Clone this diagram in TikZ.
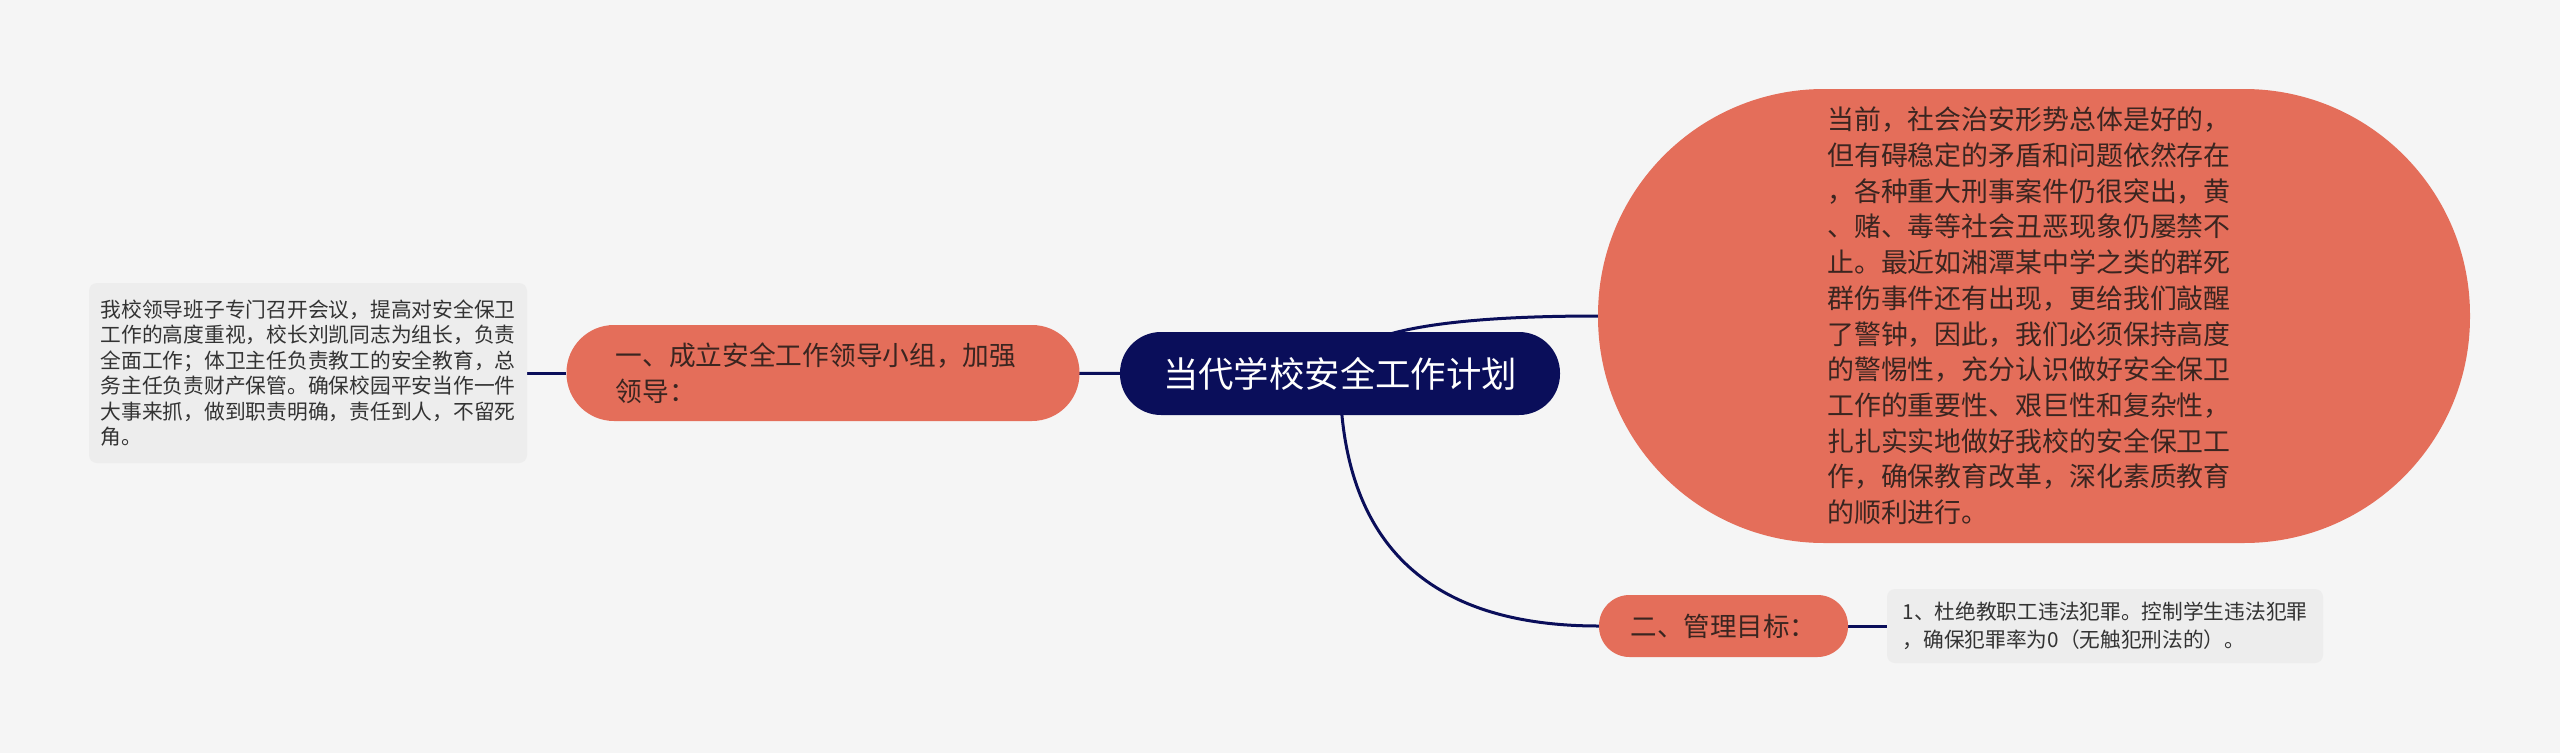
\documentclass[tikz,border=0pt]{standalone}
\usepackage{fontspec}
\setmainfont{Noto Sans CJK SC}
\usetikzlibrary{calc}
\definecolor{bgc}{HTML}{F5F5F5}
\definecolor{navy}{HTML}{0A0E5A}
\definecolor{coral}{HTML}{E46E5A}
\definecolor{coraltext}{HTML}{3A2520}
\definecolor{leaffill}{HTML}{EDEDED}
\definecolor{leaftext}{HTML}{333333}
\pgfdeclarelayer{edgelayer}
\pgfsetlayers{edgelayer,main}
\tikzset{
  rootbox/.style={draw=none, fill=navy, text=white, rounded corners=41pt, inner sep=0pt,
    minimum width=440pt, minimum height=83pt, font=\fontsize{35.4pt}{42pt}\selectfont},
  branchbox/.style={draw=none, fill=coral, text=coraltext, inner sep=0pt, align=left},
  leafbox/.style={draw=none, fill=leaffill, text=leaftext, rounded corners=8pt, inner sep=0pt, align=left,
    font=\fontsize{20.75pt}{25.5pt}\selectfont},
  conn/.style={draw=navy, line width=3pt}
}
\begin{document}
\begin{tikzpicture}[x=1pt, y=-1pt]
\useasboundingbox (0,0) rectangle (2560,753);

\node[rootbox] (root) at (1340,373.5) {当代学校安全工作计划};

\node[branchbox, rounded corners=47.5pt, minimum width=513pt, minimum height=96pt,
  font=\fontsize{26.7pt}{36pt}\selectfont] (bL) at (823,373)
  {\hspace*{-14pt}一、成立安全工作领导小组，加强\\\hspace*{-14pt}领导：};

\node[leafbox, minimum width=438pt, minimum height=180pt] (leafL) at (308,373)
  {我校领导班子专门召开会议，提高对安全保卫\\
   工作的高度重视，校长刘凯同志为组长，负责\\
   全面工作；体卫主任负责教工的安全教育，总\\
   务主任负责财产保管。确保校园平安当作一件\\
   大事来抓，做到职责明确，责任到人，不留死\\
   角。};

\node[branchbox, rounded corners=226pt, minimum width=872pt, minimum height=454pt,
  font=\fontsize{26.9pt}{35.7pt}\selectfont] (big) at (2034,316)
  {\hspace*{-10pt}当前，社会治安形势总体是好的，\\
   \hspace*{-10pt}但有碍稳定的矛盾和问题依然存在\\
   \hspace*{-10pt}，各种重大刑事案件仍很突出，黄\\
   \hspace*{-10pt}、赌、毒等社会丑恶现象仍屡禁不\\
   \hspace*{-10pt}止。最近如湘潭某中学之类的群死\\
   \hspace*{-10pt}群伤事件还有出现，更给我们敲醒\\
   \hspace*{-10pt}了警钟，因此，我们必须保持高度\\
   \hspace*{-10pt}的警惕性，充分认识做好安全保卫\\
   \hspace*{-10pt}工作的重要性、艰巨性和复杂性，\\
   \hspace*{-10pt}扎扎实实地做好我校的安全保卫工\\
   \hspace*{-10pt}作，确保教育改革，深化素质教育\\
   \hspace*{-10pt}的顺利进行。};

\node[branchbox, rounded corners=30.5pt, minimum width=249pt, minimum height=62pt,
  font=\fontsize{26.5pt}{32pt}\selectfont] (b2) at (1723.5,626) {二、管理目标：};

\node[leafbox, minimum width=436pt, minimum height=74pt, font=\fontsize{20.7pt}{28pt}\selectfont] (leafR) at (2105,626)
  {1、杜绝教职工违法犯罪。控制学生违法犯罪\\
   ，确保犯罪率为0（无触犯刑法的）。};

\begin{pgfonlayer}{edgelayer}
\fill[bgc] (0,0) rectangle (2560,753);
\coordinate (kbig) at (root.center |- big.west);
\coordinate (kb2) at (root.center |- b2.west);
\draw[conn] (root.center) .. controls ($(root.center)!0.6667!(kbig)$) and ($(big.west)!0.6667!(kbig)$) .. (big.west);
\draw[conn] (root.center) .. controls ($(root.center)!0.6667!(kb2)$) and ($(b2.west)!0.6667!(kb2)$) .. (b2.west);
\draw[conn] (root.center) -- (bL.center);
\draw[conn] (bL.west) -- (leafL.east);
\draw[conn] (b2.east) -- (leafR.west);
\end{pgfonlayer}
\end{tikzpicture}
\end{document}
